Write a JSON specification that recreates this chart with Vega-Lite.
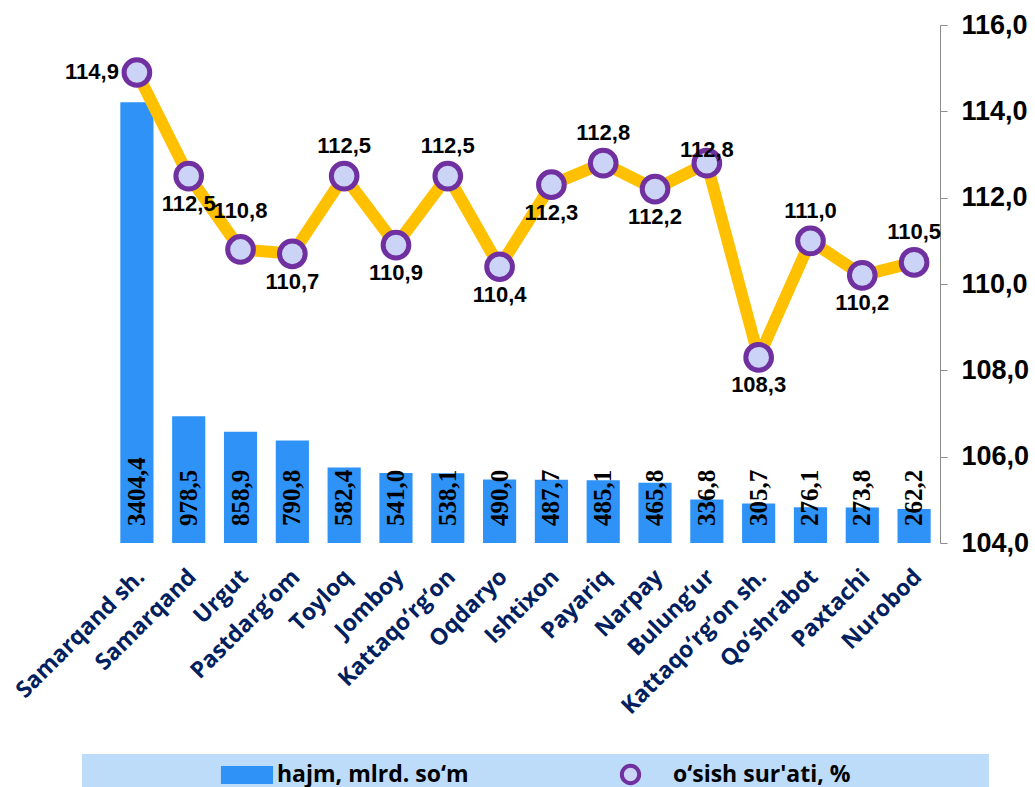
{
  "$schema": "https://vega.github.io/schema/vega-lite/v6.json",
  "width": 829,
  "height": 518,
  "autosize": {"type": "none"},
  "padding": {"left": 111, "top": 25, "right": 95, "bottom": 244},
  "background": "white",
  "config": {
    "view": {"stroke": null},
    "locale": {"number": {"decimal": ",", "thousands": "\u00a0", "grouping": [3], "currency": ["", ""]}},
    "axis": {"grid": false}
  },
  "data": {
    "values": [
      {"district": "Samarqand sh.", "hajm": 3404.4, "osish": 114.9},
      {"district": "Samarqand", "hajm": 978.5, "osish": 112.5},
      {"district": "Urgut", "hajm": 858.9, "osish": 110.8},
      {"district": "Pastdarg‘om", "hajm": 790.8, "osish": 110.7},
      {"district": "Toyloq", "hajm": 582.4, "osish": 112.5},
      {"district": "Jomboy", "hajm": 541.0, "osish": 110.9},
      {"district": "Kattaqo‘rg‘on", "hajm": 538.1, "osish": 112.5},
      {"district": "Oqdaryo", "hajm": 490.0, "osish": 110.4},
      {"district": "Ishtixon", "hajm": 487.7, "osish": 112.3},
      {"district": "Payariq", "hajm": 485.1, "osish": 112.8},
      {"district": "Narpay", "hajm": 465.8, "osish": 112.2},
      {"district": "Bulung‘ur", "hajm": 336.8, "osish": 112.8},
      {"district": "Kattaqo‘rg‘on sh.", "hajm": 305.7, "osish": 108.3},
      {"district": "Qo‘shrabot", "hajm": 276.1, "osish": 111.0},
      {"district": "Paxtachi", "hajm": 273.8, "osish": 110.2},
      {"district": "Nurobod", "hajm": 262.2, "osish": 110.5}
    ]
  },
  "encoding": {
    "x": {
      "field": "district",
      "type": "nominal",
      "sort": null,
      "scale": {"paddingInner": 0.36, "paddingOuter": 0.18},
      "axis": {
        "title": null,
        "labelAngle": -45,
        "labelAlign": "right",
        "labelBaseline": "middle",
        "labelPadding": 30,
        "labelOffset": 4,
        "ticks": false,
        "domain": false,
        "labelFont": "Open Sans",
        "labelFontWeight": "bold",
        "labelFontSize": 23,
        "labelColor": "#002060",
        "labelLimit": 300
      }
    }
  },
  "layer": [
    {
      "layer": [
        {
          "mark": {"type": "bar"},
          "encoding": {
            "y": {"field": "hajm", "type": "quantitative", "scale": {"domain": [0, 4000]}, "axis": null},
            "color": {
              "datum": "hajm, mlrd. so‘m",
              "type": "nominal",
              "scale": {"range": ["#2E92F7"]},
              "legend": {
                "orient": "none",
                "legendX": -29,
                "legendY": 729,
                "direction": "horizontal",
                "title": " ",
                "titleOrient": "right",
                "titlePadding": 80,
                "fillColor": "#BCDCFA",
                "padding": 9,
                "symbolOffset": 144,
                "symbolSize": 576,
                "labelOffset": 18,
                "labelFont": "Open Sans",
                "labelFontWeight": "bold",
                "labelFontSize": 23,
                "labelColor": "black",
                "labelLimit": 400,
                "encode": {
                  "symbols": {
                    "update": {
                      "shape": {"signal": "'M-2.17,-0.75H2.17V0.75H-2.17Z'"},
                      "size": {"signal": "576"},
                      "strokeWidth": {"value": 0},
                      "opacity": {"value": 1}
                    }
                  }
                }
              }
            }
          }
        },
        {
          "mark": {"type": "text", "angle": 270, "align": "left", "baseline": "middle", "dx": 17, "font": "Liberation Serif", "fontWeight": "bold", "fontSize": 25, "color": "black"},
          "encoding": {
            "y": {"datum": 0, "type": "quantitative", "axis": null},
            "text": {"field": "hajm", "type": "quantitative", "format": ".1f"}
          }
        }
      ]
    },
    {
      "layer": [
        {
          "mark": {"type": "line", "strokeWidth": 12, "strokeJoin": "round", "strokeCap": "round", "color": "#FFC000"},
          "encoding": {
            "y": {
              "field": "osish",
              "type": "quantitative",
              "scale": {"domain": [104, 116], "zero": false},
              "axis": {
                "orient": "right",
                "title": null,
                "values": [104, 106, 108, 110, 112, 114, 116],
                "format": ".1f",
                "labelFont": "Liberation Sans",
                "labelFontWeight": "bold",
                "labelFontSize": 27,
                "labelColor": "black",
                "domainColor": "#8c8c8c",
                "tickColor": "#8c8c8c",
                "tickSize": 7,
                "labelPadding": 14
              }
            }
          }
        },
        {
          "mark": {"type": "point", "filled": true, "fill": "#CBD3F6", "strokeWidth": 5, "size": 660, "opacity": 1},
          "encoding": {
            "y": {"field": "osish", "type": "quantitative"},
            "stroke": {
              "datum": "o‘sish sur'ati, %",
              "type": "nominal",
              "scale": {"range": ["#7030A0"]},
              "legend": {
                "orient": "none",
                "legendX": 429,
                "legendY": 729,
                "direction": "horizontal",
                "title": " ",
                "titleOrient": "right",
                "titlePadding": 130,
                "fillColor": "#BCDCFA",
                "padding": 9,
                "symbolType": "circle",
                "symbolSize": 300,
                "symbolStrokeWidth": 4,
                "symbolFillColor": "#CBD3F6",
                "symbolStrokeColor": "#7030A0",
                "symbolOffset": 70,
                "labelOffset": 31,
                "labelFont": "Open Sans",
                "labelFontWeight": "bold",
                "labelFontSize": 23,
                "labelColor": "black",
                "labelLimit": 400
              }
            }
          }
        },
        {
          "transform": [{"filter": {"field": "district", "oneOf": ["Toyloq", "Kattaqo‘rg‘on", "Payariq", "Qo‘shrabot", "Nurobod"]}}],
          "mark": {"type": "text", "dy": -30, "font": "Liberation Sans", "fontWeight": "bold", "fontSize": 22, "color": "black"},
          "encoding": {
            "y": {"field": "osish", "type": "quantitative"},
            "text": {"field": "osish", "type": "quantitative", "format": ".1f"}
          }
        },
        {
          "transform": [{"filter": {"field": "district", "oneOf": ["Urgut"]}}],
          "mark": {"type": "text", "dy": -38, "font": "Liberation Sans", "fontWeight": "bold", "fontSize": 22, "color": "black"},
          "encoding": {
            "y": {"field": "osish", "type": "quantitative"},
            "text": {"field": "osish", "type": "quantitative", "format": ".1f"}
          }
        },
        {
          "transform": [{"filter": {"field": "district", "oneOf": ["Bulung‘ur"]}}],
          "mark": {"type": "text", "dy": -13, "font": "Liberation Sans", "fontWeight": "bold", "fontSize": 22, "color": "black"},
          "encoding": {
            "y": {"field": "osish", "type": "quantitative"},
            "text": {"field": "osish", "type": "quantitative", "format": ".1f"}
          }
        },
        {
          "transform": [{"filter": {"field": "district", "oneOf": ["Samarqand", "Pastdarg‘om", "Jomboy", "Oqdaryo", "Ishtixon", "Narpay", "Kattaqo‘rg‘on sh.", "Paxtachi"]}}],
          "mark": {"type": "text", "dy": 28, "font": "Liberation Sans", "fontWeight": "bold", "fontSize": 22, "color": "black"},
          "encoding": {
            "y": {"field": "osish", "type": "quantitative"},
            "text": {"field": "osish", "type": "quantitative", "format": ".1f"}
          }
        },
        {
          "transform": [{"filter": {"field": "district", "oneOf": ["Samarqand sh."]}}],
          "mark": {"type": "text", "align": "right", "dx": -18, "font": "Liberation Sans", "fontWeight": "bold", "fontSize": 22, "color": "black"},
          "encoding": {
            "y": {"field": "osish", "type": "quantitative"},
            "text": {"field": "osish", "type": "quantitative", "format": ".1f"}
          }
        }
      ]
    }
  ],
  "resolve": {"scale": {"y": "independent"}}
}
